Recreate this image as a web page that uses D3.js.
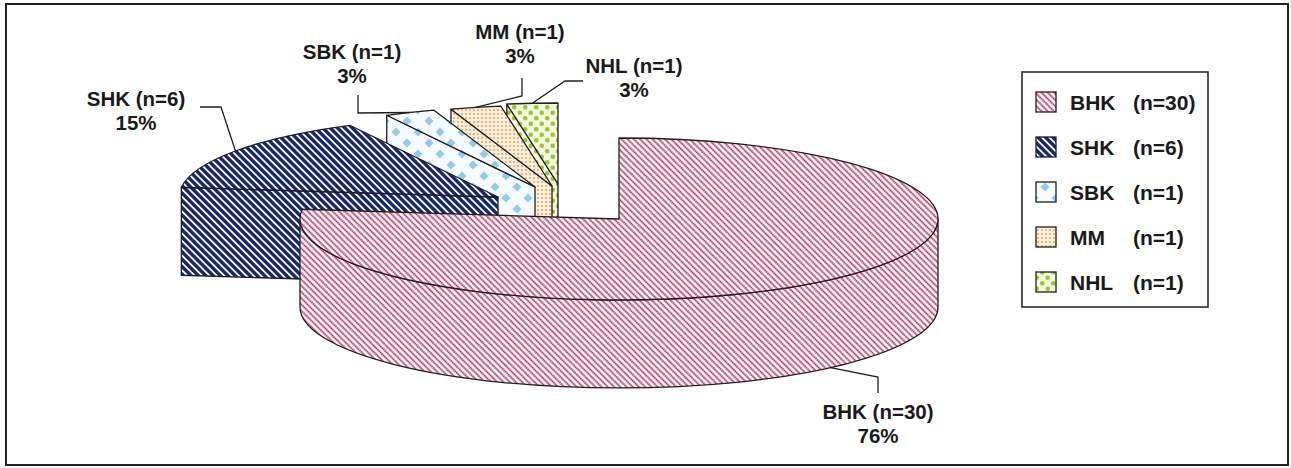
<!DOCTYPE html>
<html>
<head>
<meta charset="utf-8">
<script src="https://cdn.jsdelivr.net/npm/d3@7"></script>
<style>
body{margin:0;background:#fff}
text{font-family:"Liberation Sans",Arial,sans-serif;font-weight:bold;fill:#1a1a1a}
</style>
</head>
<body>
<div id="chart"></div>
<script>
// data
const categories = ["BHK", "SHK", "SBK", "MM", "NHL"]
const counts = [30, 6, 1, 1, 1]
const percents = ["76%", "15%", "3%", "3%", "3%"]

// layout
const width = 1291, height = 468
const cx = 619, cy = 219, rx = 319, ry = 81, depth = 88
// how far each slice is pulled out of the pie
const explode = [[0, 0], [-121, -22], [-84, -32], [-67, -33], [-61, -35]]
// label centre x / first baseline y, and leader elbows
const labelPos = [[878, 419], [136, 106], [352, 59], [520, 39], [634, 73]]
const leaderBends = [
    [[878, 393], [878, 377]],
    [[200, 107], [221, 107]],
    [[358, 95], [358, 113]],
    [[522, 78], [522, 96]],
    [[583, 81], [565, 81]]
]
const patternIds = ["pBHK", "pSHK", "pSBK", "pMM", "pNHL"]

let svg = d3.select("#chart").append("svg")
    .attr("width", width)
    .attr("height", height)

svg.append("rect")
    .attr("width", width).attr("height", height)
    .attr("fill", "#fff")

let defs = svg.append("defs")

function stripes(id, size, gap, color, w, dash){
    let p = defs.append("pattern")
        .attr("id", id)
        .attr("patternUnits", "userSpaceOnUse")
        .attr("width", size).attr("height", gap)
        .attr("patternTransform", "rotate(45)")
    p.append("rect").attr("width", size).attr("height", gap).attr("fill", "#fff")
    let l = p.append("line")
        .attr("x1", 0).attr("x2", size)
        .attr("y1", gap / 2).attr("y2", gap / 2)
        .attr("stroke", color).attr("stroke-width", w)
    if(dash) l.attr("stroke-dasharray", dash)
}
stripes("pBHK", 4, 4.4, "#b51a50", 1.7, "1.6 0.4")
stripes("pSHK", 5, 5.2, "#18266a", 3.4)

let sbk = defs.append("pattern")
    .attr("id", "pSBK").attr("patternUnits", "userSpaceOnUse")
    .attr("width", 22).attr("height", 22)
sbk.append("rect").attr("width", 22).attr("height", 22).attr("fill", "#f5fafe")
;[[11, 11], [0, 0], [22, 0], [0, 22], [22, 22]].forEach(c => {
    sbk.append("polygon")
        .attr("points", [[c[0], c[1] - 4.5], [c[0] + 4.5, c[1]], [c[0], c[1] + 4.5], [c[0] - 4.5, c[1]]].join(" "))
        .attr("fill", "#93cbe9")
})

let mm = defs.append("pattern")
    .attr("id", "pMM").attr("patternUnits", "userSpaceOnUse")
    .attr("width", 4).attr("height", 4)
mm.append("rect").attr("width", 4).attr("height", 4).attr("fill", "#fcf0dc")
mm.append("circle").attr("cx", 2).attr("cy", 2).attr("r", 0.95).attr("fill", "#e2a05c")

let nhl = defs.append("pattern")
    .attr("id", "pNHL").attr("patternUnits", "userSpaceOnUse")
    .attr("width", 11).attr("height", 11)
nhl.append("rect").attr("width", 11).attr("height", 11).attr("fill", "#f4f8dc")
nhl.append("circle").attr("cx", 2.75).attr("cy", 2.75).attr("r", 2.3).attr("fill", "#98c636")
nhl.append("circle").attr("cx", 8.25).attr("cy", 8.25).attr("r", 2.3).attr("fill", "#98c636")

let arcs = d3.pie().sort(null).value(d => d)(counts)

function pt(a, off, dy){
    return [cx + off[0] + rx * Math.sin(a), cy + off[1] - ry * Math.cos(a) + (dy || 0)]
}

let chart = svg.append("g")
let lineColor = "#1e1e1e"

// draw back slices first, the big one last
d3.range(categories.length).reverse().forEach(i => {
    let a0 = arcs[i].startAngle, a1 = arcs[i].endAngle
    let off = explode[i]
    let c = [cx + off[0], cy + off[1]]
    let fill = "url(#" + patternIds[i] + ")"
    let g = chart.append("g")

    // cut walls
    let walls = []
    if(Math.sin(a0) < -1e-6) walls.push(a0)
    if(Math.sin(a1) > 1e-6) walls.push(a1)
    walls.forEach(a => {
        let p = pt(a, off)
        g.append("path")
            .attr("d", "M" + c + "L" + p + "L" + [p[0], p[1] + depth] + "L" + [c[0], c[1] + depth] + "Z")
            .attr("fill", fill).attr("stroke", lineColor).attr("stroke-width", 1.3)
            .attr("stroke-linejoin", "round")
    })

    // outer wall, front half only
    let s = Math.max(a0, Math.PI / 2), e = Math.min(a1, 3 * Math.PI / 2)
    if(s < e){
        g.append("path")
            .attr("d", "M" + pt(s, off) + "A" + rx + "," + ry + " 0 0 1 " + pt(e, off)
                + "L" + pt(e, off, depth) + "A" + rx + "," + ry + " 0 0 0 " + pt(s, off, depth) + "Z")
            .attr("fill", fill).attr("stroke", lineColor).attr("stroke-width", 1.3)
    }

    // top face
    let large = (a1 - a0) > Math.PI ? 1 : 0
    g.append("path")
        .attr("d", "M" + c + "L" + pt(a0, off) + "A" + rx + "," + ry + " 0 " + large + " 1 " + pt(a1, off) + "Z")
        .attr("fill", fill).attr("stroke", lineColor).attr("stroke-width", 1.3)
        .attr("stroke-linejoin", "round")
})

// leaders and labels
categories.forEach((cat, i) => {
    let mid = (arcs[i].startAngle + arcs[i].endAngle) / 2
    let anchor = i == 0 ? pt(mid, explode[i], depth) : pt(mid, explode[i])
    let pts = leaderBends[i].concat([anchor])
    svg.append("path")
        .attr("d", d3.line()(pts))
        .attr("fill", "none").attr("stroke", lineColor).attr("stroke-width", 1.3)

    let t = svg.append("text")
        .attr("text-anchor", "middle")
        .style("font-size", "20.5px")
    t.append("tspan").attr("x", labelPos[i][0]).attr("y", labelPos[i][1])
        .text(cat + " (n=" + counts[i] + ")")
    t.append("tspan").attr("x", labelPos[i][0]).attr("y", labelPos[i][1] + 24)
        .text(percents[i])
})

// legend
let legend = svg.append("g")
legend.append("rect")
    .attr("x", 1022).attr("y", 72)
    .attr("width", 186).attr("height", 235)
    .attr("fill", "#fff").attr("stroke", lineColor).attr("stroke-width", 1.5)

categories.forEach((cat, i) => {
    let y = 102 + i * 45
    legend.append("rect")
        .attr("x", 1036).attr("y", y - 10)
        .attr("width", 20).attr("height", 20)
        .attr("fill", "url(#" + patternIds[i] + ")")
        .attr("stroke", lineColor).attr("stroke-width", 1.3)
    legend.append("text")
        .attr("x", 1070).attr("y", y + 7.5)
        .style("font-size", "21px")
        .text(cat)
    legend.append("text")
        .attr("x", 1133).attr("y", y + 7.5)
        .style("font-size", "21px")
        .text("(n=" + counts[i] + ")")
})

// outer frame
svg.append("rect")
    .attr("x", 6).attr("y", 4)
    .attr("width", 1282).attr("height", 461)
    .attr("fill", "none").attr("stroke", "#222").attr("stroke-width", 2)
</script>
</body>
</html>
